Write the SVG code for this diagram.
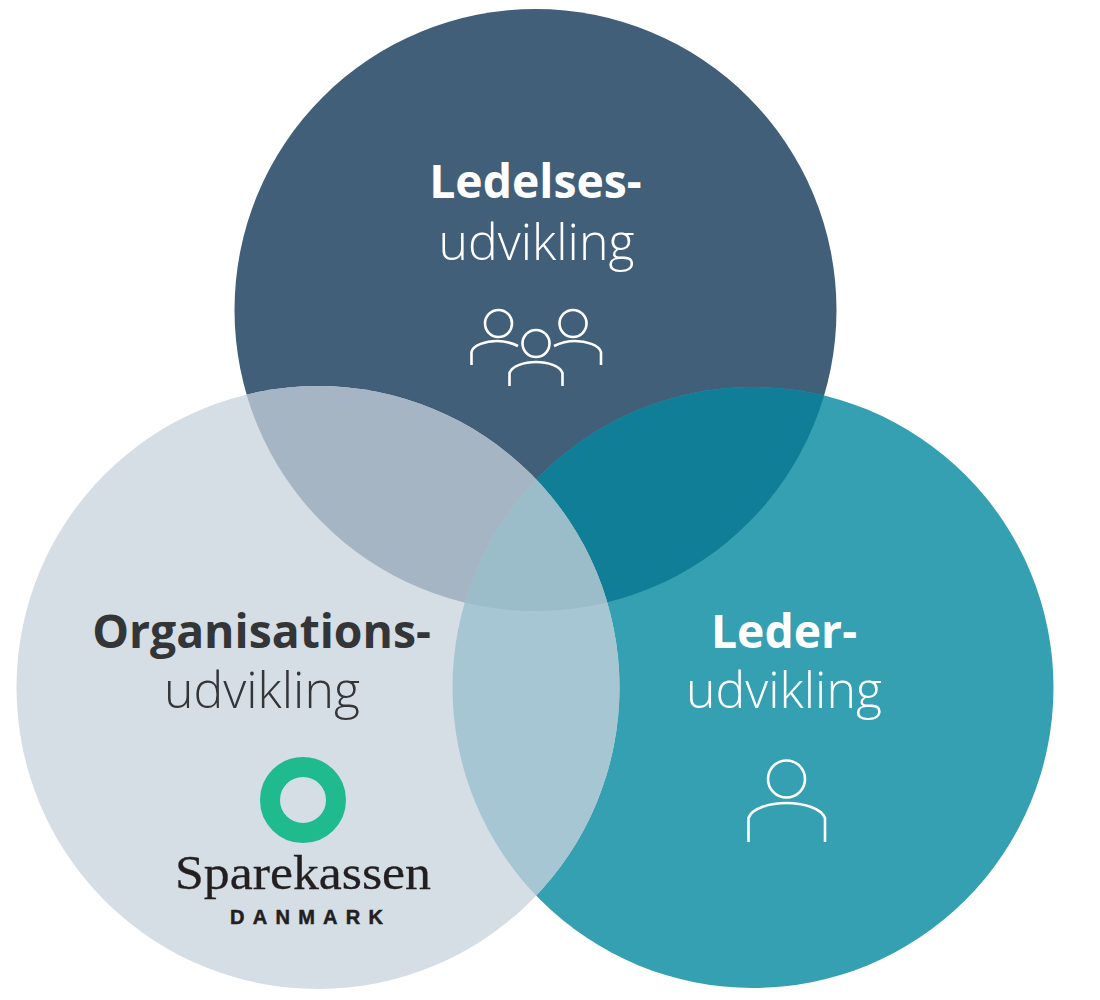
<svg xmlns="http://www.w3.org/2000/svg" width="1100" height="1000" viewBox="0 0 1100 1000">
<style>
.t{font-family:"Open Sans","Liberation Sans",sans-serif;text-anchor:middle}
.b{font-weight:700;font-size:46.300px}
.l{font-weight:300;font-size:50px}
.w{fill:#fff}
.d{fill:#333537}
.i{fill:none;stroke:#fff;stroke-width:2.600}
</style>
<defs>
<clipPath id="cT"><circle cx="535.500" cy="310" r="301"/></clipPath>
<clipPath id="cL"><circle cx="318" cy="687.500" r="301.500"/></clipPath>
<clipPath id="cR"><circle cx="753" cy="687.500" r="300.500"/></clipPath>
</defs>
<rect width="1100" height="1000" fill="#fff"/>
<g id="circle-ledelse"><circle cx="535.500" cy="310" r="301" fill="#425F79"/></g>
<g id="circle-leder"><circle cx="753" cy="687.500" r="300.500" fill="#34A0B1"/></g>
<g id="circle-organisation"><circle cx="318" cy="687.500" r="301.500" fill="#D5DDE5"/></g>
<g id="overlaps">
<g clip-path="url(#cT)"><circle cx="753" cy="687.500" r="300.500" fill="#107E96"/></g>
<g clip-path="url(#cT)"><circle cx="318" cy="687.500" r="301.500" fill="#A5B5C3"/></g>
<g clip-path="url(#cR)"><circle cx="318" cy="687.500" r="301.500" fill="#A5C6D2"/></g>
<g clip-path="url(#cT)"><g clip-path="url(#cR)"><circle cx="318" cy="687.500" r="301.500" fill="#9BBDCA"/></g></g>
</g>
<g id="label-ledelse">
<text class="t b w" x="535.500" y="198">Ledelses-</text>
<text class="t l w" x="536.500" y="260">udvikling</text>
<g class="i">
<circle cx="498.500" cy="323.500" r="13.500"/>
<circle cx="573" cy="323.500" r="13.500"/>
<circle cx="536" cy="343.500" r="13.500"/>
<path d="M471.500 365V352C473 345 486 341 497 341C505 341 512 343 518 346"/>
<path d="M601 365V352C599 345 586 341 575 341C567 341 560 343 554 346"/>
<path d="M509.500 386V373C512 366 524 362 536 362C548 362 560 366 562.500 373V386"/>
</g>
</g>
<g id="label-organisation">
<text class="t b d" x="261.500" y="648">Organisations-</text>
<text class="t l d" x="262" y="708">udvikling</text>
<circle cx="303" cy="800" r="33" fill="none" stroke="#1FBA8E" stroke-width="20"/>
<text x="303" y="889" font-family="'Liberation Serif',serif" font-size="48" text-anchor="middle" fill="#231F20" stroke="#231F20" stroke-width="0.300" textLength="256" lengthAdjust="spacingAndGlyphs">Sparekassen</text>
<text x="306.500" y="924" font-family="'Liberation Sans',sans-serif" font-weight="700" font-size="20" text-anchor="middle" fill="#231F20" stroke="#231F20" stroke-width="0.500" textLength="153" lengthAdjust="spacing">DANMARK</text>
</g>
<g id="label-leder">
<text class="t b w" x="784" y="648">Leder-</text>
<text class="t l w" x="784" y="708">udvikling</text>
<g class="i">
<circle cx="786.500" cy="779" r="18.500"/>
<path d="M748.500 842V818C752 808 770 803 786.500 803C803 803 821 808 825 818V842"/>
</g>
</g>
</svg>
